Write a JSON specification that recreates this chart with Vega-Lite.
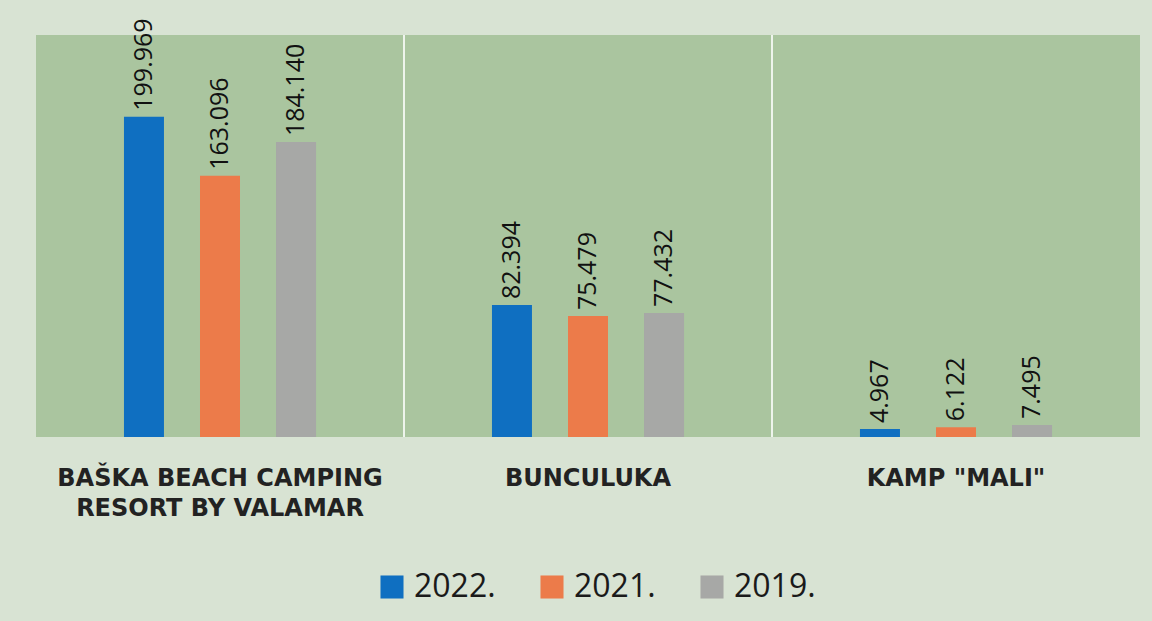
{
  "$schema": "https://vega.github.io/schema/vega-lite/v6.json",
  "width": 1104,
  "height": 402,
  "autosize": {"type": "none"},
  "padding": {"left": 36, "top": 35, "right": 12, "bottom": 184},
  "background": "#d8e3d3",
  "config": {
    "view": {"fill": "#aac59f", "stroke": null},
    "locale": {"number": {"decimal": ",", "thousands": ".", "grouping": [3], "currency": ["", ""]}}
  },
  "data": {
    "values": [
      {"camp": "BAŠKA BEACH CAMPING RESORT BY VALAMAR", "year": "2022.", "guests": 199969},
      {"camp": "BAŠKA BEACH CAMPING RESORT BY VALAMAR", "year": "2021.", "guests": 163096},
      {"camp": "BAŠKA BEACH CAMPING RESORT BY VALAMAR", "year": "2019.", "guests": 184140},
      {"camp": "BUNCULUKA", "year": "2022.", "guests": 82394},
      {"camp": "BUNCULUKA", "year": "2021.", "guests": 75479},
      {"camp": "BUNCULUKA", "year": "2019.", "guests": 77432},
      {"camp": "KAMP \"MALI\"", "year": "2022.", "guests": 4967},
      {"camp": "KAMP \"MALI\"", "year": "2021.", "guests": 6122},
      {"camp": "KAMP \"MALI\"", "year": "2019.", "guests": 7495}
    ]
  },
  "encoding": {
    "x": {
      "field": "camp",
      "type": "nominal",
      "sort": null,
      "scale": {"paddingInner": 0, "paddingOuter": 0},
      "axis": {
        "title": null,
        "domain": false,
        "ticks": false,
        "labelAngle": 0,
        "labelFont": "DejaVu Sans",
        "labelFontWeight": "bold",
        "labelFontSize": 24,
        "labelColor": "#222222",
        "labelPadding": 29,
        "labelBaseline": "top",
        "labelLineHeight": 30,
        "labelLimit": 0,
        "labelExpr": "datum.label == 'BAŠKA BEACH CAMPING RESORT BY VALAMAR' ? ['BAŠKA BEACH CAMPING', 'RESORT BY VALAMAR'] : datum.label"
      }
    }
  },
  "layer": [
    {
      "mark": {"type": "bar", "width": 40},
      "encoding": {
        "xOffset": {
          "field": "year",
          "type": "nominal",
          "sort": ["2022.", "2021.", "2019."],
          "scale": {"paddingInner": 0.16, "paddingOuter": 1}
        },
        "y": {
          "field": "guests",
          "type": "quantitative",
          "scale": {"domain": [0, 251000], "nice": false},
          "axis": null
        },
        "color": {
          "field": "year",
          "type": "nominal",
          "sort": ["2022.", "2021.", "2019."],
          "scale": {"domain": ["2022.", "2021.", "2019."], "range": ["#0f6fc1", "#ec7b4a", "#a7a8a6"]},
          "legend": {
            "title": null,
            "orient": "none",
            "legendX": 340,
            "legendY": 536,
            "direction": "horizontal",
            "symbolType": "square",
            "symbolSize": 530,
            "symbolStrokeWidth": 0,
            "symbolOpacity": 1,
            "labelFont": "Open Sans",
            "labelFontSize": 32,
            "labelColor": "#1a1a1a",
            "labelOffset": 6,
            "columnPadding": 40,
            "labelLimit": 0
          }
        }
      }
    },
    {
      "mark": {
        "type": "text",
        "angle": -90,
        "align": "left",
        "baseline": "middle",
        "dx": 6,
        "font": "Open Sans",
        "fontSize": 25,
        "color": "#111111"
      },
      "encoding": {
        "xOffset": {
          "field": "year",
          "type": "nominal",
          "sort": ["2022.", "2021.", "2019."],
          "scale": {"paddingInner": 0.16, "paddingOuter": 1}
        },
        "y": {"field": "guests", "type": "quantitative"},
        "text": {"field": "guests", "type": "quantitative", "format": ",d"}
      }
    },
    {
      "transform": [
        {"filter": "datum.year == '2022.' && datum.camp != 'BAŠKA BEACH CAMPING RESORT BY VALAMAR'"}
      ],
      "mark": {"type": "rule", "color": "#ffffff", "strokeWidth": 2, "opacity": 0.8},
      "encoding": {
        "x": {"field": "camp", "type": "nominal", "sort": null, "bandPosition": 0}
      }
    }
  ]
}
